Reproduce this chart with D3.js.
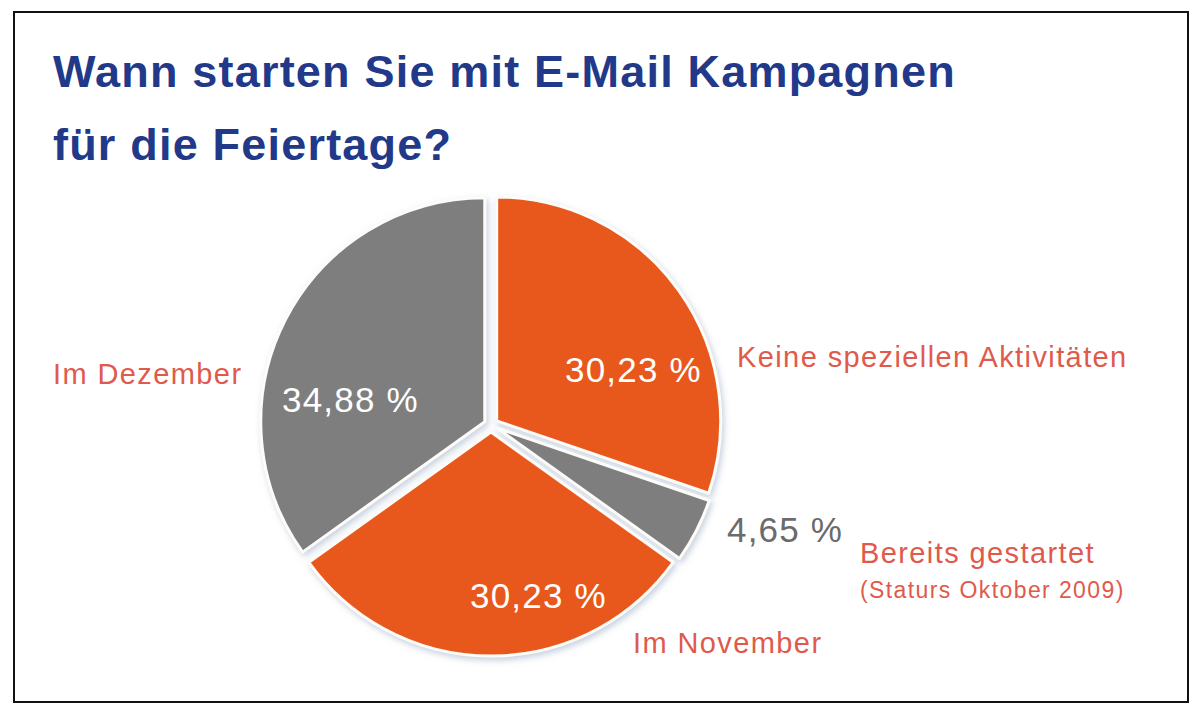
<!DOCTYPE html>
<html>
<head>
<meta charset="utf-8">
<script src="https://cdn.jsdelivr.net/npm/d3@7"></script>
<style>
  html, body { margin: 0; padding: 0; background: #fff; }
  svg { display: block; }
  text { font-family: "Liberation Sans", Arial, Helvetica, sans-serif; }
</style>
</head>
<body>
<script>
// ---- data ----
const categories = ["Keine speziellen Aktivitäten", "Bereits gestartet", "Im November", "Im Dezember"];
const values = [30.23, 4.65, 30.23, 34.88];
const valueLabels = ["30,23 %", "4,65 %", "30,23 %", "34,88 %"];
const sliceColors = ["#e8581b", "#7e7e7e", "#e8581b", "#7e7e7e"];
const titleLines = ["Wann starten Sie mit E-Mail Kampagnen", "für die Feiertage?"];
const note = "(Staturs Oktober 2009)";

// ---- layout ----
const W = 1200, H = 718;
const cx = 491, cy = 425, R = 224, explode = 7;

// text placement (start x, baseline y)
const valuePos = [[565, 382], [727, 542], [470, 608], [282, 412]];
const valueFill = ["#ffffff", "#6b6b6b", "#ffffff", "#ffffff"];
const catPos = [[737, 367], [860, 563], [633, 653], [53, 384]];

const svg = d3.select("body").append("svg")
  .attr("width", W).attr("height", H);

svg.append("rect").attr("width", W).attr("height", H).attr("fill", "#fff");

// frame
svg.append("rect")
  .attr("x", 14).attr("y", 12).attr("width", 1174).attr("height", 690)
  .attr("fill", "none").attr("stroke", "#111").attr("stroke-width", 2);

// title
svg.append("g").selectAll("text").data(titleLines).join("text")
  .attr("x", 53)
  .attr("y", (d, i) => 87 + i * 73)
  .attr("font-size", 45)
  .attr("font-weight", "bold")
  .attr("letter-spacing", 1.2)
  .attr("fill", "#22398a")
  .text(d => d);

// shadow filter
const defs = svg.append("defs");
const f = defs.append("filter").attr("id", "sh")
  .attr("x", "-20%").attr("y", "-20%").attr("width", "140%").attr("height", "140%");
f.append("feDropShadow").attr("dx", 2).attr("dy", 3).attr("stdDeviation", 3)
  .attr("flood-color", "#98aac4").attr("flood-opacity", 0.55);

const pie = d3.pie().sort(null).value(d => d)(values);
const arc = d3.arc().innerRadius(0).outerRadius(R);

const g = svg.append("g").attr("transform", `translate(${cx},${cy})`);
g.selectAll("path").data(pie).join("path")
  .attr("transform", d => {
    const a = (d.startAngle + d.endAngle) / 2;
    return `translate(${Math.sin(a) * explode},${-Math.cos(a) * explode})`;
  })
  .attr("d", arc)
  .attr("fill", (d, i) => sliceColors[i])
  .attr("stroke", "#fdfcf8")
  .attr("stroke-width", 3)
  .attr("stroke-linejoin", "round")
  .attr("filter", "url(#sh)");

// value labels
svg.append("g").selectAll("text").data(valueLabels).join("text")
  .attr("x", (d, i) => valuePos[i][0])
  .attr("y", (d, i) => valuePos[i][1])
  .attr("font-size", 35)
  .attr("letter-spacing", 1.2)
  .attr("fill", (d, i) => valueFill[i])
  .text(d => d);

// category labels
svg.append("g").selectAll("text").data(categories).join("text")
  .attr("x", (d, i) => catPos[i][0])
  .attr("y", (d, i) => catPos[i][1])
  .attr("font-size", 29)
  .attr("letter-spacing", 1.4)
  .attr("fill", "#e05a4c")
  .text(d => d);

svg.append("text")
  .attr("x", 860).attr("y", 598)
  .attr("font-size", 23)
  .attr("letter-spacing", 1.4)
  .attr("fill", "#e05a4c")
  .text(note);
</script>
</body>
</html>
